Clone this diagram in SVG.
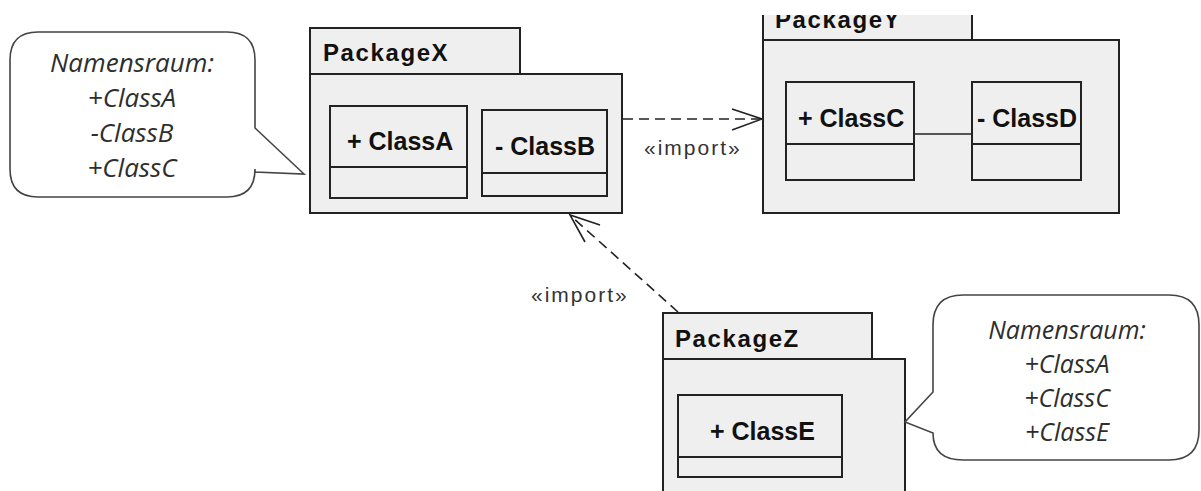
<svg xmlns="http://www.w3.org/2000/svg" width="1201" height="491" viewBox="0 0 1201 491">
  <style>
    .pkg { fill: #efefef; stroke: #222; stroke-width: 2; }
    .cls { fill: #efefef; stroke: #222; stroke-width: 2; }
    .pkgname { font-family: "Liberation Sans", Arial, sans-serif; font-weight: bold; font-size: 24px; letter-spacing: 1.6px; fill: #111; }
    .clsname { font-family: "Liberation Sans", Arial, sans-serif; font-weight: bold; font-size: 25px; fill: #111; }
    .stereo { font-family: "Liberation Sans", Arial, sans-serif; font-size: 21px; letter-spacing: 2px; fill: #333; }
    .dep { fill: none; stroke: #222; stroke-width: 1.6; stroke-dasharray: 10 6; }
    .head { fill: none; stroke: #222; stroke-width: 1.6; }
    .note { fill: #fff; stroke: #444; stroke-width: 1.6; }
    .notetext { font-family: "Open Sans", "Noto Sans", sans-serif; font-style: italic; font-size: 26px; fill: #2e2e2e; text-anchor: middle; }
    .notetext.tight { font-size: 25px; }
  </style>
  <defs>
    <clipPath id="viewTop">
      <rect x="0" y="15" width="1201" height="476"/>
    </clipPath>
  </defs>
  <rect width="1201" height="491" fill="#fff"/>

  <!-- note attached to PackageX -->
  <g id="noteX">
    <path class="note" d="M38,32 H227 Q255,32 255,60 V128 L304,174 L255,172 V169 Q255,197 227,197 H38 Q10,197 10,169 V60 Q10,32 38,32 Z"/>
    <text class="notetext" x="132" y="72">Namensraum:</text>
    <text class="notetext" x="132" y="107">+ClassA</text>
    <text class="notetext" x="132" y="142">-ClassB</text>
    <text class="notetext" x="132" y="177">+ClassC</text>
  </g>

  <!-- PackageX -->
  <g id="packageX">
    <rect class="pkg" x="310" y="28" width="210" height="46"/>
    <rect class="pkg" x="310" y="74" width="312" height="139"/>
    <text class="pkgname" x="323" y="61">PackageX</text>
    <g id="classA">
      <rect class="cls" x="330" y="106" width="137" height="92"/>
      <line class="cls" x1="330" y1="167" x2="467" y2="167"/>
      <text class="clsname" x="347" y="150">+ ClassA</text>
    </g>
    <g id="classB">
      <rect class="cls" x="482" y="110" width="125" height="86"/>
      <line class="cls" x1="482" y1="173" x2="607" y2="173"/>
      <text class="clsname" x="495" y="155">- ClassB</text>
    </g>
  </g>

  <!-- PackageY (upper edge cut by the frame) -->
  <g id="packageY" clip-path="url(#viewTop)">
    <rect class="pkg" x="763" y="5" width="209" height="35"/>
    <rect class="pkg" x="763" y="40" width="356" height="173"/>
    <text class="pkgname" x="775" y="28">PackageY</text>
    <g id="classC">
      <rect class="cls" x="786" y="82" width="128" height="98"/>
      <line class="cls" x1="786" y1="144" x2="914" y2="144"/>
      <text class="clsname" x="798" y="127">+ ClassC</text>
    </g>
    <g id="classD">
      <rect class="cls" x="972" y="82" width="109" height="98"/>
      <line class="cls" x1="972" y1="144" x2="1081" y2="144"/>
      <text class="clsname" x="977" y="127">- ClassD</text>
    </g>
  </g>

  <!-- PackageZ (lower edge runs off the frame) -->
  <g id="packageZ">
    <rect class="pkg" x="663" y="313" width="209" height="46"/>
    <rect class="pkg" x="663" y="359" width="242" height="150"/>
    <text class="pkgname" x="675" y="347">PackageZ</text>
    <g id="classE">
      <rect class="cls" x="678" y="395" width="164" height="82"/>
      <line class="cls" x1="678" y1="457" x2="842" y2="457"/>
      <text class="clsname" x="710" y="440">+ ClassE</text>
    </g>
  </g>

  <!-- note attached to PackageZ -->
  <g id="noteZ">
    <path class="note" d="M963,295 H1169 Q1199,295 1199,325 V430 Q1199,460 1169,460 H963 Q933,460 933,433 L905,422 L933,392 V325 Q933,295 963,295 Z"/>
    <text class="notetext tight" x="1067" y="339">Namensraum:</text>
    <text class="notetext tight" x="1067" y="373">+ClassA</text>
    <text class="notetext tight" x="1067" y="407">+ClassC</text>
    <text class="notetext tight" x="1067" y="441">+ClassE</text>
  </g>

  <!-- import dependencies -->
  <g id="connectors">
    <g id="importXY">
      <line class="dep" x1="623" y1="119" x2="760" y2="119"/>
      <polyline class="head" points="732,109 762,119 732,130"/>
      <text class="stereo" x="644" y="155">«import»</text>
    </g>
    <g id="importZX">
      <line class="dep" x1="678" y1="312" x2="572" y2="217"/>
      <polyline class="head" points="600,225 570,215 585,242"/>
      <text class="stereo" x="531" y="302">«import»</text>
    </g>
    <line class="head" x1="914" y1="134" x2="972" y2="134"/>
  </g>
</svg>
